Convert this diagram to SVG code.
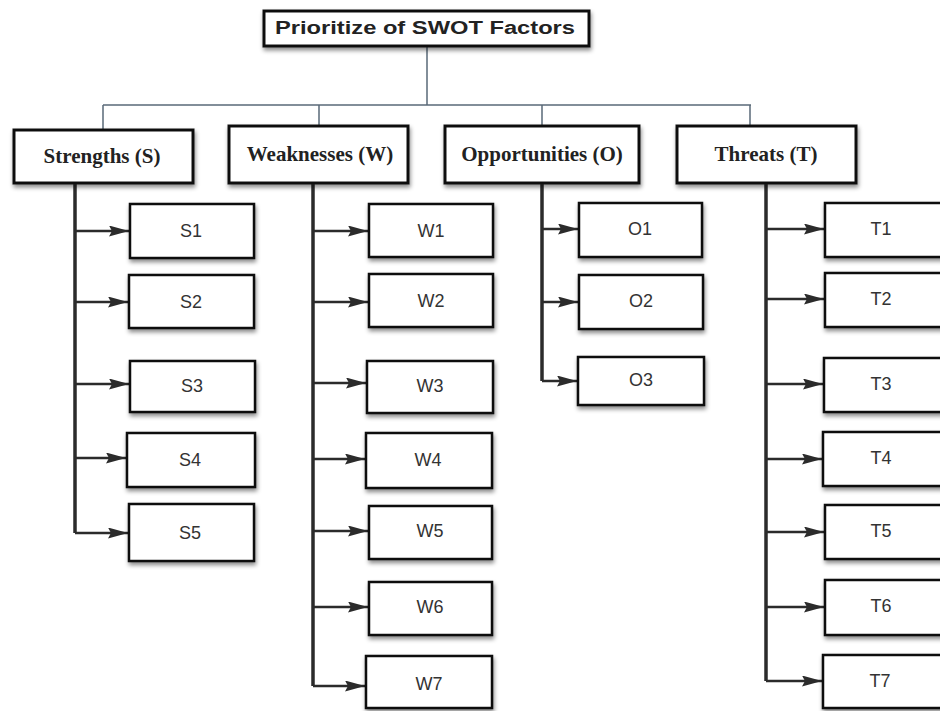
<svg xmlns="http://www.w3.org/2000/svg" width="940" height="711" viewBox="0 0 940 711">
  <defs>
    <filter id="shadow" x="-10%" y="-20%" width="130%" height="160%">
      <feDropShadow dx="1" dy="3" stdDeviation="2" flood-color="#000" flood-opacity="0.45"/>
    </filter>
    <marker id="arrow" viewBox="0 0 20 11" refX="20" refY="5.5" markerWidth="20" markerHeight="11" markerUnits="userSpaceOnUse" orient="auto">
      <path d="M0,0 L20,5.5 L0,11 L3,5.5 z" fill="#2b2b2b"/>
    </marker>
  </defs>
  <style>
    .box { fill: #ffffff; stroke: #111111; stroke-width: 3; filter: url(#shadow); }
    .item { fill: #ffffff; stroke: #111111; stroke-width: 2.5; filter: url(#shadow); }
    .title { font-family: "Liberation Sans", Arial, sans-serif; font-weight: bold; font-size: 18px; fill: #222; }
    .cat { font-family: "Liberation Serif", "Times New Roman", serif; font-weight: bold; font-size: 21px; fill: #222; text-anchor: middle; }
    .lbl { font-family: "Liberation Sans", Arial, sans-serif; font-size: 18px; fill: #333; text-anchor: middle; }
    .tree { fill: none; stroke: #5a6a78; stroke-width: 1.5; }
    .trunk { fill: none; stroke: #2b2b2b; stroke-width: 3.5; }
    .branch { fill: none; stroke: #2b2b2b; stroke-width: 2.5; marker-end: url(#arrow); }
  </style>

  <!-- connectors -->
  <g id="connectors">
    <path class="tree" d="M427,46 V105 M103,105 H751 M103,105 V130 M319,105 V126 M542,105 V126 M750,105 V126"/>
    <path class="trunk" d="M75,183 V533 M313,183 V686 M542,183 V381 M766,183 V681"/>
    <!-- strengths -->
    <path class="branch" d="M75,231 H129"/>
    <path class="branch" d="M75,302 H128"/>
    <path class="branch" d="M75,384 H129"/>
    <path class="branch" d="M75,458 H126"/>
    <path class="branch" d="M75,533 H128"/>
    <!-- weaknesses -->
    <path class="branch" d="M313,231 H368"/>
    <path class="branch" d="M313,302 H368"/>
    <path class="branch" d="M313,383 H366"/>
    <path class="branch" d="M313,459 H365"/>
    <path class="branch" d="M313,531 H368"/>
    <path class="branch" d="M313,607 H368"/>
    <path class="branch" d="M313,686 H365"/>
    <!-- opportunities -->
    <path class="branch" d="M542,229 H578"/>
    <path class="branch" d="M542,302 H578"/>
    <path class="branch" d="M542,381 H577"/>
    <!-- threats -->
    <path class="branch" d="M766,229 H824"/>
    <path class="branch" d="M766,299 H824"/>
    <path class="branch" d="M766,384 H823"/>
    <path class="branch" d="M766,459 H822"/>
    <path class="branch" d="M766,532 H824"/>
    <path class="branch" d="M766,607 H824"/>
    <path class="branch" d="M766,681 H822"/>
  </g>

  <!-- root -->
  <g id="root">
    <rect class="box" x="264" y="11" width="325" height="35"/>
    <text class="title" x="275" y="34" textLength="300" lengthAdjust="spacingAndGlyphs">Prioritize of SWOT Factors</text>
  </g>

  <!-- categories -->
  <g id="strengths">
    <rect class="box" x="14" y="130" width="179" height="53"/>
    <text class="cat" x="102" y="163">Strengths (S)</text>
  </g>
  <g id="weaknesses">
    <rect class="box" x="229" y="126" width="179" height="57"/>
    <text class="cat" x="320" y="161">Weaknesses (W)</text>
  </g>
  <g id="opportunities">
    <rect class="box" x="445" y="126" width="194" height="57"/>
    <text class="cat" x="542" y="161">Opportunities (O)</text>
  </g>
  <g id="threats">
    <rect class="box" x="677" y="126" width="179" height="57"/>
    <text class="cat" x="766" y="161">Threats (T)</text>
  </g>

  <!-- strengths items -->
  <g id="S1"><rect class="item" x="130" y="204" width="124" height="54"/><text class="lbl" x="191" y="237">S1</text></g>
  <g id="S2"><rect class="item" x="129" y="275" width="125" height="53"/><text class="lbl" x="191" y="308">S2</text></g>
  <g id="S3"><rect class="item" x="130" y="361" width="125" height="51"/><text class="lbl" x="192" y="392">S3</text></g>
  <g id="S4"><rect class="item" x="127" y="433" width="128" height="54"/><text class="lbl" x="190" y="466">S4</text></g>
  <g id="S5"><rect class="item" x="129" y="504" width="125" height="57"/><text class="lbl" x="190" y="539">S5</text></g>

  <!-- weaknesses items -->
  <g id="W1"><rect class="item" x="369" y="204" width="124" height="53"/><text class="lbl" x="431" y="237">W1</text></g>
  <g id="W2"><rect class="item" x="369" y="274" width="124" height="53"/><text class="lbl" x="431" y="307">W2</text></g>
  <g id="W3"><rect class="item" x="367" y="361" width="126" height="52"/><text class="lbl" x="430" y="392">W3</text></g>
  <g id="W4"><rect class="item" x="366" y="433" width="126" height="55"/><text class="lbl" x="428" y="466">W4</text></g>
  <g id="W5"><rect class="item" x="369" y="506" width="123" height="53"/><text class="lbl" x="430" y="537">W5</text></g>
  <g id="W6"><rect class="item" x="369" y="582" width="123" height="53"/><text class="lbl" x="430" y="613">W6</text></g>
  <g id="W7"><rect class="item" x="366" y="656" width="126" height="52"/><text class="lbl" x="429" y="690">W7</text></g>

  <!-- opportunities items -->
  <g id="O1"><rect class="item" x="579" y="203" width="123" height="54"/><text class="lbl" x="640" y="235">O1</text></g>
  <g id="O2"><rect class="item" x="579" y="275" width="124" height="54"/><text class="lbl" x="641" y="307">O2</text></g>
  <g id="O3"><rect class="item" x="578" y="357" width="126" height="48"/><text class="lbl" x="641" y="386">O3</text></g>

  <!-- threats items -->
  <g id="T1"><rect class="item" x="825" y="203" width="130" height="54"/><text class="lbl" x="881" y="235">T1</text></g>
  <g id="T2"><rect class="item" x="825" y="273" width="130" height="54"/><text class="lbl" x="881" y="305">T2</text></g>
  <g id="T3"><rect class="item" x="824" y="358" width="131" height="54"/><text class="lbl" x="881" y="390">T3</text></g>
  <g id="T4"><rect class="item" x="823" y="432" width="132" height="54"/><text class="lbl" x="881" y="464">T4</text></g>
  <g id="T5"><rect class="item" x="825" y="505" width="130" height="54"/><text class="lbl" x="881" y="537">T5</text></g>
  <g id="T6"><rect class="item" x="825" y="580" width="130" height="55"/><text class="lbl" x="881" y="612">T6</text></g>
  <g id="T7"><rect class="item" x="823" y="655" width="132" height="53"/><text class="lbl" x="880" y="687">T7</text></g>
</svg>
